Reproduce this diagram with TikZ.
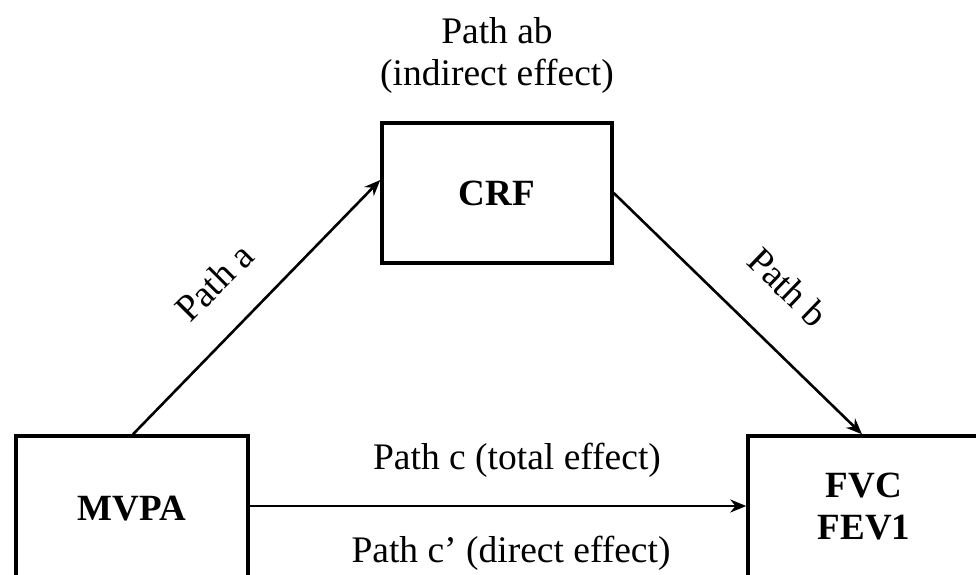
\documentclass[tikz,border=0pt]{standalone}
\usepackage{fontspec}
\setmainfont{Liberation Serif}
\usetikzlibrary{arrows.meta,calc}
\begin{document}
\begin{tikzpicture}[x=1pt,y=-1pt,
  box/.style={draw,line width=3.5pt,minimum width=230pt,minimum height=140pt,inner sep=0pt,font=\fontsize{37}{43}\selectfont\bfseries,align=center},
  conn/.style={line width=2.6pt,-{Stealth[length=16pt,width=13pt]}},
  lbl/.style={font=\fontsize{37.5}{43}\selectfont,inner sep=0pt}]
\useasboundingbox (0,0) rectangle (976,574);
\clip (0,0) rectangle (976,574);
\node[box] (crf) at (497,193) {CRF};
\node[box,minimum height=148pt,minimum width=232pt] (mvpa) at (132,510) {\raisebox{4pt}{MVPA}};
\node[box,minimum height=148pt,minimum width=232pt] (fvc) at (864,510) {\raisebox{4pt}{\begin{tabular}{@{}c@{}}FVC\\[-1pt]FEV1\end{tabular}}};
\draw[conn] ($(mvpa.north)+(1,0)$) -- ($(crf.west)+(0,-13)$);
\draw[conn] (crf.east) -- ($(fvc.north)+(-2,0)$);
\draw[conn] ($(mvpa.east)+(0,-4)$) -- ($(fvc.west)+(0,-4)$);
\node[lbl] (ab1) at (497,31) {Path ab};
\node[lbl] (ab2) at (497,76) {(indirect effect)};
\node[lbl,rotate=45] (pa) at (214,282) {Path a};
\node[lbl,rotate=-44] (pb) at (788,287) {Path b};
\node[lbl] (pc) at (517,460) {Path c (total effect)};
\node[lbl] (pcp) at (511,553) {Path c’ (direct effect)};
\end{tikzpicture}
\end{document}
